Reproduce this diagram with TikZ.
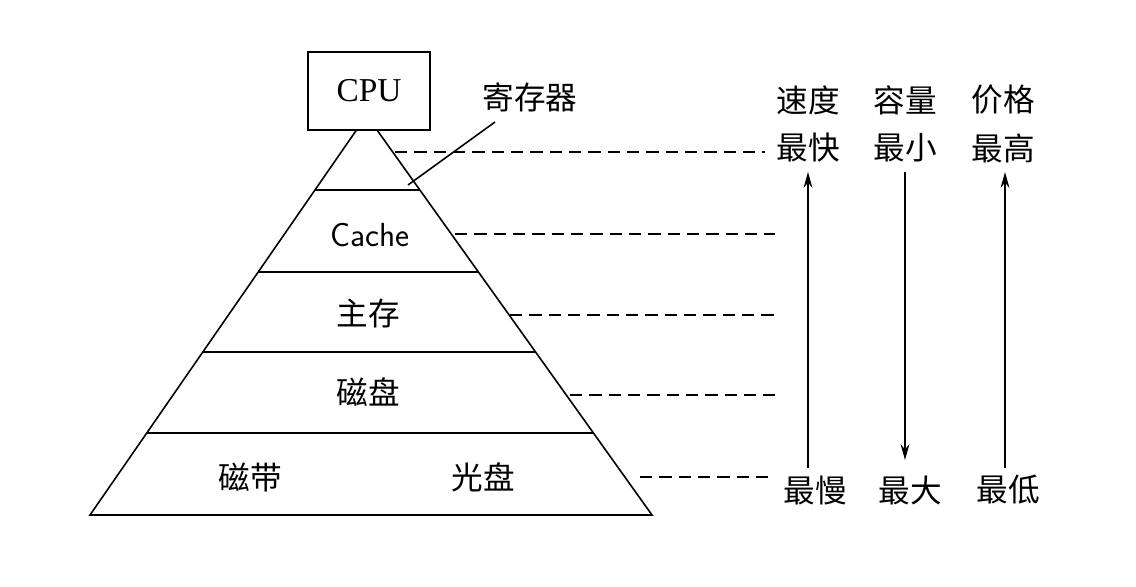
\documentclass[tikz,border=0pt]{standalone}
\usepackage{fontspec}
\setmainfont{Liberation Serif}
\newfontfamily\cjk{Noto Sans CJK SC}
\usetikzlibrary{arrows.meta}
\begin{document}
\begin{tikzpicture}[x=0.02cm,y=-0.02cm,
  lbl/.style={font=\cjk\fontsize{18}{20}\selectfont,inner sep=1pt},
  lat/.style={font=\fontsize{19}{21}\selectfont,inner sep=1pt},
  dline/.style={line width=0.9pt,dash pattern=on 7pt off 4pt},
  ln/.style={line width=0.9pt},
  arr/.style={line width=0.9pt,-{Stealth[length=9pt,width=5pt]}}]
\useasboundingbox (0,0) rectangle (1136,586);
% pyramid
\coordinate (tl) at (356.5,130); \coordinate (tr) at (377,130);
\coordinate (bl) at (90,515); \coordinate (br) at (652,515);
\draw[ln] (tl) -- (bl) -- (br) -- (tr);
\foreach \n/\y/\l/\r in {a/190/315/420,b/272/258/478.5,c/352/203/535.6,d/433/147/593.5}{
  \coordinate (\n l) at (\l,\y); \coordinate (\n r) at (\r,\y);
  \draw[ln] (\n l) -- (\n r);}
\node[draw,ln,minimum width=2.44cm,minimum height=1.56cm,lat,fill=white] (cpu) at (369,91) {CPU};
\node[lbl] (reg) at (530,97) {寄存器};
\coordinate (rg1) at (408,185); \coordinate (rg2) at (495,122);
\draw[ln] (rg1) -- (rg2);
\node[lat,font=\sffamily\fontsize{19}{21}\selectfont] (cache) at (370,235) {Cache};
\node[lbl] (mm) at (368,313) {主存};
\node[lbl] (disk) at (368,392) {磁盘};
\node[lbl] (tape) at (250,477) {磁带};
\node[lbl] (cd) at (483,477) {光盘};
% dashed
\foreach \n/\y/\a/\b in {1/152/395/765,2/234/455/775,3/315/510/775,4/395/570/775,5/477/640/775}{
  \coordinate (s\n) at (\a,\y); \coordinate (e\n) at (\b,\y);
  \draw[dline] (s\n) -- (e\n);}
% right labels
\node[lbl] (sp) at (808,100) {速度}; \node[lbl] (sp1) at (808,148) {最快};
\node[lbl] (cap) at (905,100) {容量}; \node[lbl] (cap1) at (905,148) {最小};
\node[lbl] (pr) at (1003,100) {价格}; \node[lbl] (pr1) at (1003,148) {最高};
\node[lbl] (sp2) at (815,490) {最慢}; \node[lbl] (cap2) at (910,490) {最大}; \node[lbl] (pr2) at (1008,490) {最低};
\coordinate (a1) at (808,468); \coordinate (a2) at (808,172);
\coordinate (b1) at (905,172); \coordinate (b2) at (905,460);
\coordinate (c1) at (1005,468); \coordinate (c2) at (1005,172);
\draw[arr] (a1) -- (a2); \draw[arr] (b1) -- (b2); \draw[arr] (c1) -- (c2);
\end{tikzpicture}
\end{document}
